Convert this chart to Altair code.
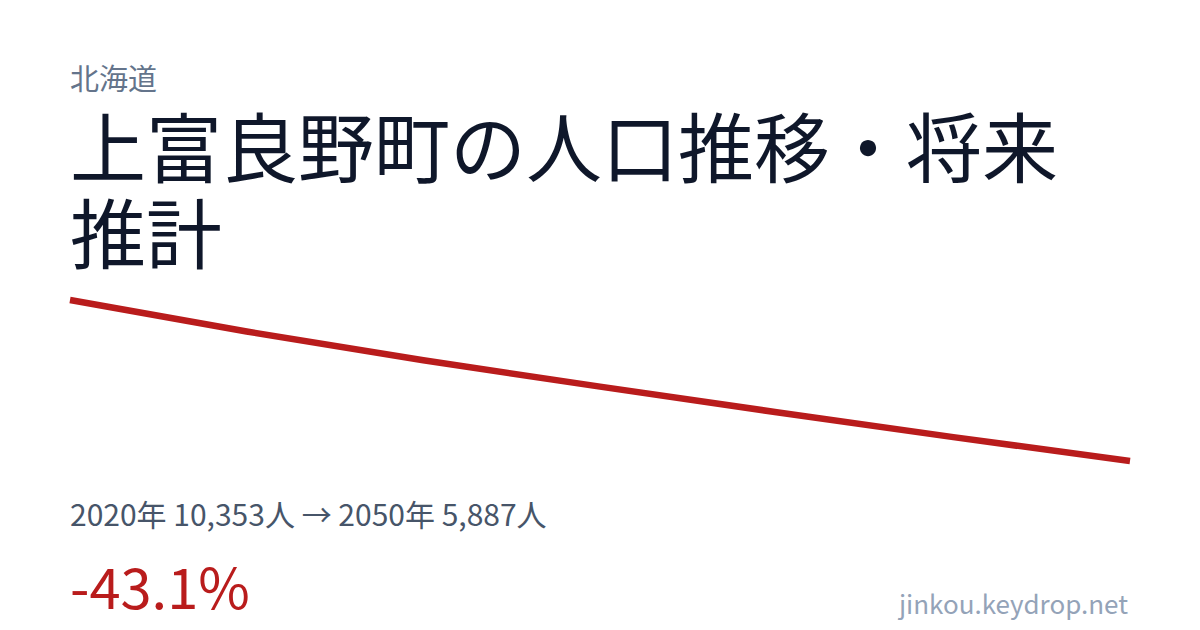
import altair as alt
import pandas as pd

years = [2020, 2025, 2030, 2035, 2040, 2045, 2050]
population = [10353, 9480, 8680, 7950, 7240, 6550, 5887]

region = "北海道"
title_lines = ["上富良野町の人口推移・将来", "推計"]
site = "jinkou.keydrop.net"

FONT = "Noto Sans CJK JP"

summary = f"{years[0]}年 {population[0]:,}人 → {years[-1]}年 {population[-1]:,}人"
pct = (population[-1] / population[0] - 1) * 100
pct_text = f"{pct:.1f}%"

df = pd.DataFrame({"year": years, "pop": population})

line = alt.Chart(df).mark_line(color="#b91c1c", strokeWidth=6.5).encode(
    x=alt.X("year:Q", scale=alt.Scale(domain=[years[0], years[-1]], range=[62, 1122]), axis=None),
    y=alt.Y("pop:Q", scale=alt.Scale(domain=[min(population), max(population)], range=[453, 292]), axis=None),
)


def txt(s, x, y, size, color, align="left", weight="normal"):
    return alt.Chart(pd.DataFrame({"t": [s]})).mark_text(
        font=FONT, fontSize=size, color=color, align=align, baseline="alphabetic", fontWeight=weight
    ).encode(text="t:N", x=alt.value(x), y=alt.value(y))


layers = [
    line,
    txt(region, 62, 82, 29, "#64748b"),
    txt(title_lines[0], 62, 169, 76, "#0f172a"),
    txt(title_lines[1], 62, 255, 76, "#0f172a"),
    txt(summary, 62, 518, 30, "#475569"),
    txt(pct_text, 62, 601, 56, "#b91c1c"),
    txt(site, 1120, 606, 26, "#94a3b8", align="right"),
]

chart = alt.layer(*layers).properties(
    width=1184, height=614, autosize="none", padding=0, background="white"
).configure_view(stroke=None)

chart.save("out.html", embed_options={"renderer": "svg", "actions": False})
